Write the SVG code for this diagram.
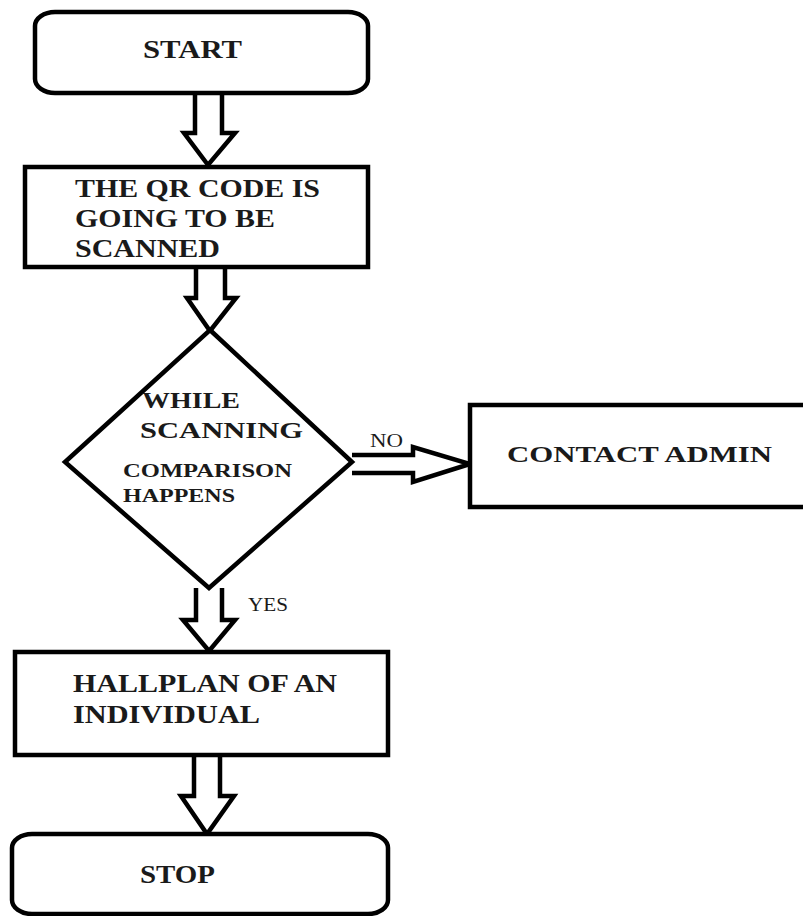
<svg xmlns="http://www.w3.org/2000/svg" width="803" height="916" viewBox="0 0 803 916">
<style>
.shape{fill:#fff;stroke:#000;stroke-width:4.5;stroke-linejoin:miter}
.arr{fill:#fff;stroke:#000;stroke-width:4.5;stroke-linejoin:miter}
.t{font-family:"Liberation Serif","Times New Roman",serif;font-weight:bold;fill:#1a1a1a}
.l{font-family:"Liberation Serif","Times New Roman",serif;fill:#1a1a1a}
</style>
<rect width="803" height="916" fill="#fff"/>
<g id="connectors">
<path class="arr" d="M195,93 V133 H184 L208,165 L235,133 H222 V93"/>
<path class="arr" d="M196,267 V298 H187 L210,331 L236,298 H225 V267"/>
<path class="arr" d="M352,455 H413 V447 L470,464 L413,482 V473 H352"/>
<path class="arr" d="M196,588 V620 H183 L209,651 L235,620 H222 V588"/>
<path class="arr" d="M194,755 V796 H181 L207,834 L234,796 H220 V755"/>
<text class="l" x="370" y="447" font-size="18" textLength="33" lengthAdjust="spacingAndGlyphs">NO</text>
<text class="l" x="248" y="611" font-size="18" textLength="40" lengthAdjust="spacingAndGlyphs">YES</text>
</g>
<g id="start">
<rect class="shape" x="35" y="12" width="333" height="81" rx="20" ry="14"/>
<text class="t" x="143" y="58" font-size="25" textLength="99" lengthAdjust="spacingAndGlyphs">START</text>
</g>
<g id="scan">
<rect class="shape" x="25" y="167" width="343" height="100"/>
<text class="t" x="75" y="197" font-size="25" textLength="245" lengthAdjust="spacingAndGlyphs">THE QR CODE IS</text>
<text class="t" x="75" y="227" font-size="25" textLength="200" lengthAdjust="spacingAndGlyphs">GOING TO BE</text>
<text class="t" x="75" y="257" font-size="25" textLength="145" lengthAdjust="spacingAndGlyphs">SCANNED</text>
</g>
<g id="decision">
<polygon class="shape" points="210,330 352,462 209,588 65,462"/>
<text class="t" x="142" y="408" font-size="23" textLength="98" lengthAdjust="spacingAndGlyphs">WHILE</text>
<text class="t" x="140" y="438" font-size="23" textLength="163" lengthAdjust="spacingAndGlyphs">SCANNING</text>
<text class="t" x="123" y="477" font-size="19" textLength="169" lengthAdjust="spacingAndGlyphs">COMPARISON</text>
<text class="t" x="123" y="502" font-size="19" textLength="112" lengthAdjust="spacingAndGlyphs">HAPPENS</text>
</g>
<g id="contact">
<rect class="shape" x="470" y="405" width="345" height="102"/>
<text class="t" x="507" y="462" font-size="24" textLength="265" lengthAdjust="spacingAndGlyphs">CONTACT ADMIN</text>
</g>
<g id="hallplan">
<rect class="shape" x="15" y="652" width="373" height="103"/>
<text class="t" x="73" y="692" font-size="25" textLength="264" lengthAdjust="spacingAndGlyphs">HALLPLAN OF AN</text>
<text class="t" x="73" y="723" font-size="25" textLength="187" lengthAdjust="spacingAndGlyphs">INDIVIDUAL</text>
</g>
<g id="stop">
<rect class="shape" x="12" y="834" width="376" height="80" rx="20" ry="14"/>
<text class="t" x="140" y="883" font-size="25" textLength="75" lengthAdjust="spacingAndGlyphs">STOP</text>
</g>
</svg>
